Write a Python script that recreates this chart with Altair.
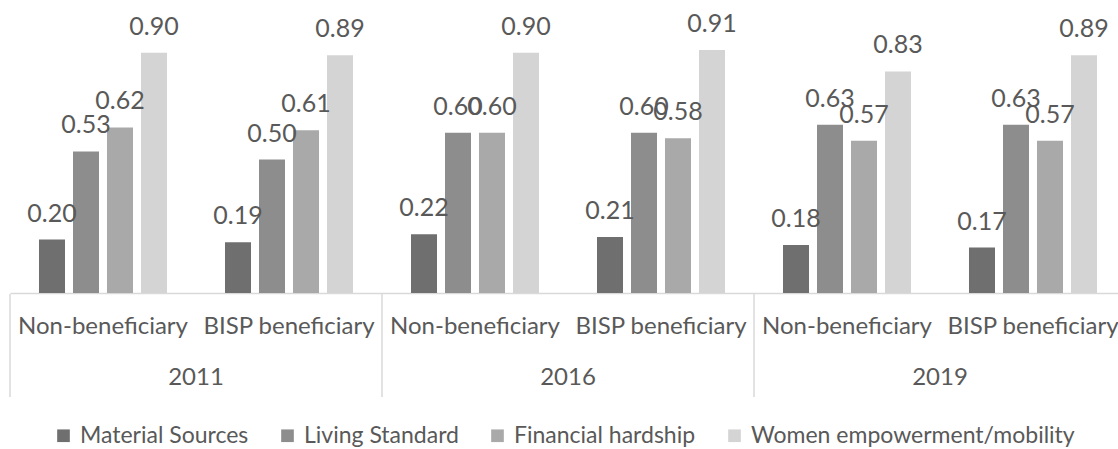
import altair as alt
import pandas as pd

# Survey years and beneficiary groups (two-level category axis)
years = ["2011", "2016", "2019"]
groups = ["Non-beneficiary", "BISP beneficiary"]

# Indicator series, one value per (year, group) in the order above
series = ["Material Sources", "Living Standard", "Financial hardship", "Women empowerment/mobility"]
material_sources = [0.20, 0.19, 0.22, 0.21, 0.18, 0.17]
living_standard = [0.53, 0.50, 0.60, 0.60, 0.63, 0.63]
financial_hardship = [0.62, 0.61, 0.60, 0.58, 0.57, 0.57]
women_empowerment = [0.90, 0.89, 0.90, 0.91, 0.83, 0.89]

colors = ["#6f6f6f", "#8d8d8d", "#a9a9a9", "#d4d4d4"]
FONT = "Lato"
TEXT = "#595959"
LINE = "#d9d9d9"

cats = [f"{y}|{g}" for y in years for g in groups]
rows = []
for name, vals in zip(series, [material_sources, living_standard, financial_hardship, women_empowerment]):
    for c, v in zip(cats, vals):
        rows.append({"cat": c, "series": name, "value": v})
df = pd.DataFrame(rows)
year_df = pd.DataFrame({"cat": [f"{y}|{groups[0]}" for y in years], "year": years})

x_main = alt.X(
    "cat:N",
    sort=cats,
    scale=alt.Scale(range=[0, 1116], paddingInner=0, paddingOuter=0),
    axis=alt.Axis(
        title=None,
        labelExpr="split(datum.label, '|')[1]",
        ticks=False,
        tickSize=0,
        labelPadding=33,
        labelBaseline="middle",
        labelAngle=0,
        labelFont=FONT,
        labelFontSize=24,
        labelColor=TEXT,
        labelLimit=0,
        domainColor=LINE,
        domainWidth=1.5,
    ),
)
x_off = alt.XOffset("series:N", sort=series, scale=alt.Scale(paddingInner=0.235, paddingOuter=0.853))
y_val = alt.Y("value:Q", scale=alt.Scale(domain=[0, 1]), axis=None)

bars = alt.Chart(df).mark_bar().encode(
    x=x_main,
    xOffset=x_off,
    y=y_val,
    color=alt.Color(
        "series:N",
        sort=series,
        scale=alt.Scale(domain=series, range=colors),
        legend=alt.Legend(
            title=None,
            orient="none",
            legendX=42,
            legendY=398,
            direction="horizontal",
            symbolType="square",
            symbolSize=160,
            symbolStrokeWidth=0,
            labelFont=FONT,
            labelFontSize=23,
            labelColor=TEXT,
            labelLimit=0,
            labelOffset=5,
            columnPadding=27,
        ),
    ),
)

labels = alt.Chart(df).mark_text(
    baseline="alphabetic", dy=-18, font=FONT, fontSize=25, color=TEXT
).encode(
    x=alt.X("cat:N", sort=cats),
    xOffset=x_off,
    y=y_val,
    text=alt.Text("value:Q", format=".2f"),
)

separators = alt.Chart(year_df).mark_rule(color=LINE, strokeWidth=1.5).encode(
    x=alt.X("cat:N", sort=cats, bandPosition=0),
    y=alt.value(268),
    y2=alt.value(371),
)

year_labels = alt.Chart(year_df).mark_text(
    baseline="middle", font=FONT, fontSize=24, color=TEXT
).encode(
    x=alt.X("cat:N", sort=cats, bandPosition=1),
    y=alt.value(352),
    text="year:N",
)

chart = (
    alt.layer(bars, labels, separators, year_labels)
    .properties(
        width=1108,
        height=267,
        autosize=alt.AutoSizeParams(type="none"),
        padding={"left": 10, "top": 26, "right": 0, "bottom": 156},
        background="white",
    )
    .configure_view(stroke="transparent")
)

chart.save("out.html", embed_options={"renderer": "svg", "actions": False})
